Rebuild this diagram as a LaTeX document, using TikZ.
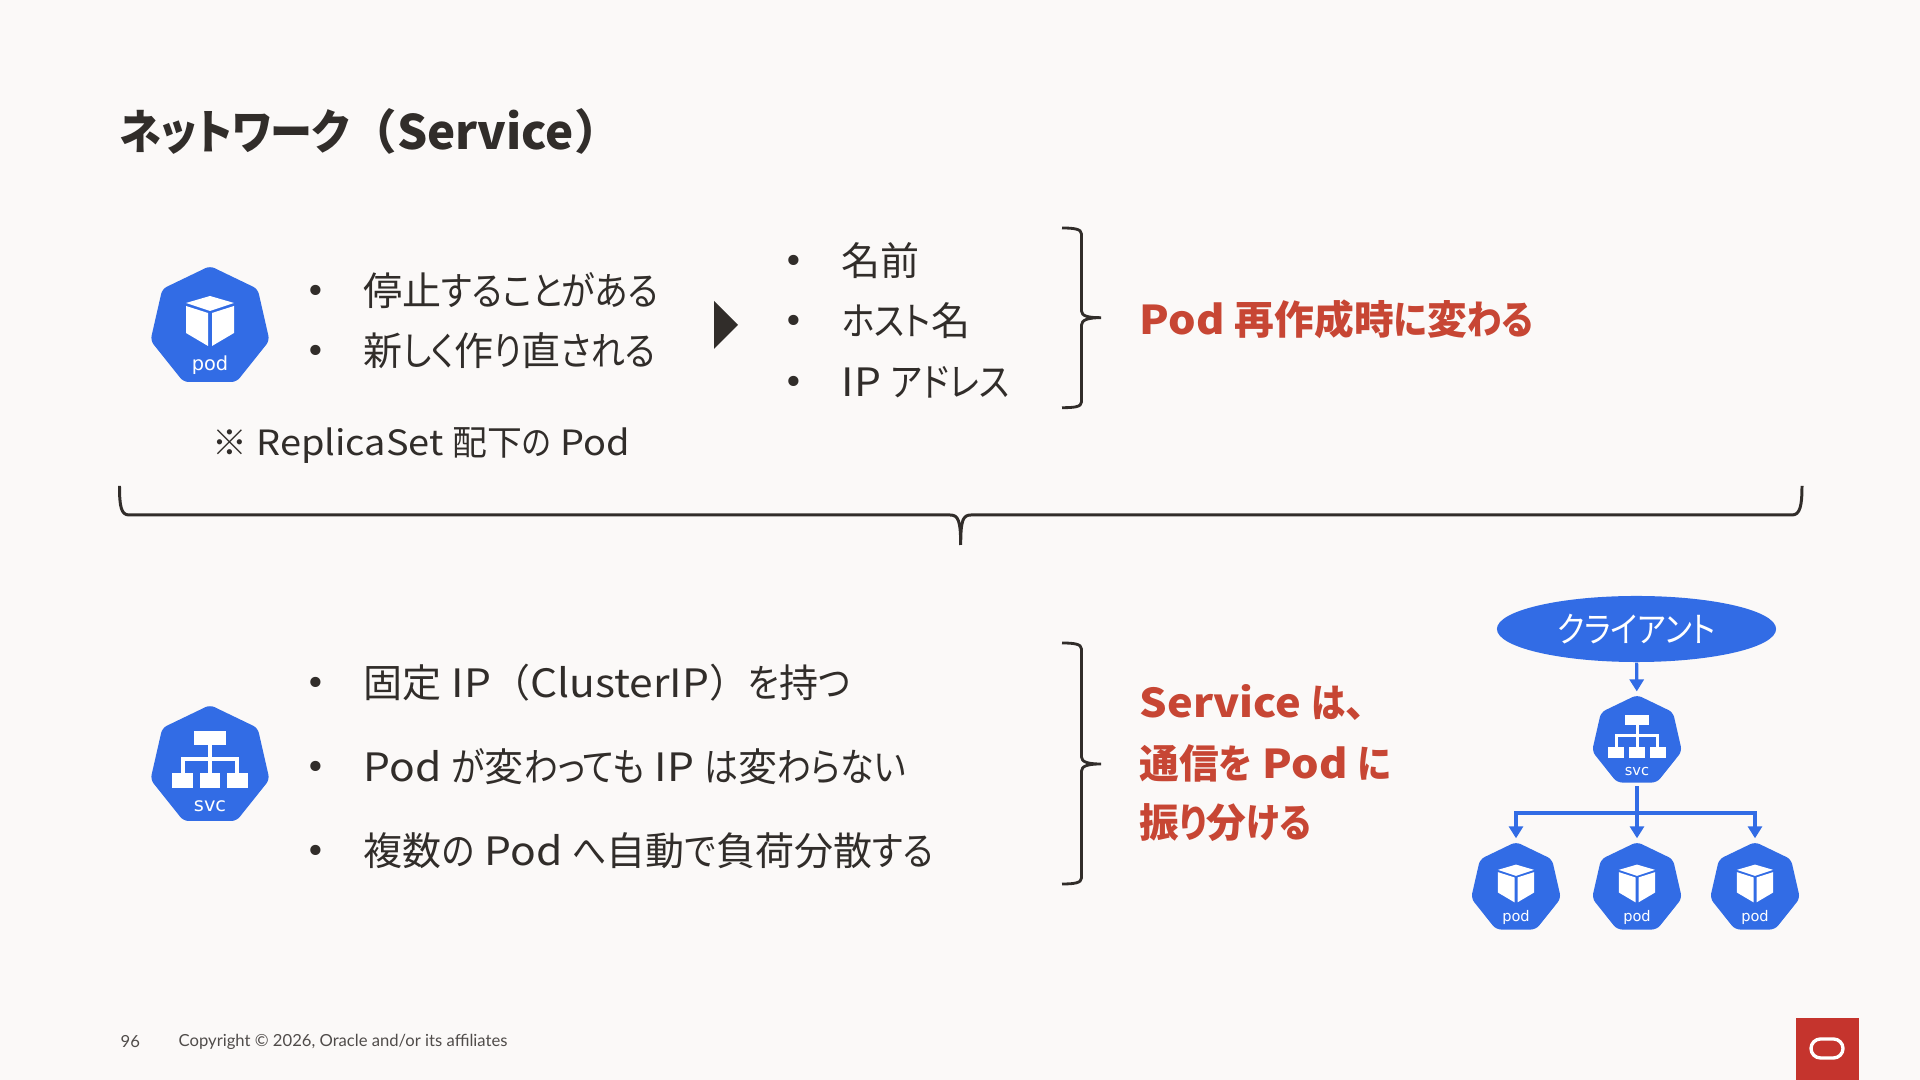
\documentclass[tikz,border=0pt]{standalone}
\usepackage{fontspec}
\usetikzlibrary{shapes.geometric,arrows.meta}
\setmainfont{Noto Sans CJK JP}
\newfontfamily\kanafont{Noto Sans CJK JP}[RawFeature=+palt,FakeStretch=0.868]
\newfontfamily\titlekana{Noto Sans CJK JP}[RawFeature=+palt,FakeStretch=0.885]
\newfontfamily\latinfont{Noto Sans CJK JP}[FakeStretch=1.09,WordSpace=1.05]
\newfontfamily\iconfont{DejaVu Sans}
\newfontfamily\footfont{Lato}
\newcommand{\kn}[1]{{\kanafont #1}}
\newcommand{\la}[1]{{\latinfont #1}}
\definecolor{pagebg}{HTML}{FBF9F8}
\definecolor{kubeblue}{HTML}{326CE5}
\definecolor{inkdark}{HTML}{312D2A}
\definecolor{alertred}{HTML}{C74634}
\definecolor{logored}{HTML}{C5342D}
\tikzset{
  bodytext/.style={anchor=west, inner sep=0pt, text=inkdark, font=\fontsize{11.1}{13}\selectfont},
  notetext/.style={anchor=west, inner sep=0pt, text=inkdark, font=\fontsize{9.9}{12}\selectfont},
  dottext/.style={inner sep=0pt, text=inkdark, font=\iconfont\fontsize{10}{12}\selectfont},
  alerttext/.style={anchor=west, inner sep=0pt, text=alertred, font=\bfseries\fontsize{11.3}{13}\selectfont},
  foottext/.style={anchor=west, inner sep=0pt, text=inkdark!85, font=\footfont\fontsize{4.73}{6}\selectfont},
  bracket/.style={draw=inkdark, line width=0.8pt},
  flow/.style={draw=kubeblue, line width=0.9pt, -{Triangle[length=0.12cm,width=0.14cm]}},
  trunk/.style={draw=kubeblue, line width=0.9pt},
  hexnode/.style={regular polygon, regular polygon sides=7, fill=kubeblue, inner sep=0pt,
    minimum size=1.22cm, rounded corners=0.05cm, transform shape},
  icontext/.style={inner sep=0pt, text=white, transform shape, font=\iconfont\fontsize{5.5}{6}\selectfont},
  pics/podicon/.style={code={
    \node[hexnode] (hex) at (0,0) {};
    \fill[white] (0,-31) -- (24,-24) -- (0,-16) -- (-24,-24) -- cycle;
    \fill[white] (-24,-21) -- (-2,-14) -- (-2,19) -- (-24,6) -- cycle;
    \fill[white] (24,-21) -- (2,-14) -- (2,19) -- (24,6) -- cycle;
    \node[icontext] (name) at (0,38.5) {pod};
  }},
  pics/svcicon/.style={code={
    \node[hexnode] (hex) at (0,0) {};
    \fill[white] (-16,-35) rectangle (16,-21);
    \fill[white] (-38,7.5) rectangle (-17,22);
    \fill[white] (-10,7.5) rectangle (10,22);
    \fill[white] (17,7.5) rectangle (38,22);
    \fill[white] (-2,-21) rectangle (2,7.5);
    \fill[white] (-29,-9) rectangle (29,-5);
    \fill[white] (-29,-9) rectangle (-25,7.5);
    \fill[white] (25,-9) rectangle (29,7.5);
    \node[icontext] (name) at (0,40) {svc};
  }}
}
\begin{document}
\begin{tikzpicture}[x=0.01cm, y=-0.01cm]
  \path[use as bounding box, fill=pagebg] (0,0) rectangle (1920,1080);

  % Title
  \node[anchor=west, inner sep=0pt, text=inkdark, font=\bfseries\fontsize{13.5}{16}\selectfont] (title) at (119,131) {{\titlekana ネットワーク}（Service）};

  % Pod row
  \pic (podbig) at (210,327) {podicon};
  \node[dottext] (dota) at (316,294) {•};
  \node[bodytext] (stop) at (363,291) {停止\kn{することがある}};
  \node[dottext] (dotb) at (316,354) {•};
  \node[bodytext] (recreate) at (363,351) {新\kn{しく}作\kn{り}直\kn{される}};
  \node[notetext] (note) at (212,446) {※\la{ ReplicaSet }配下\kn{の}\la{ Pod}};
  \fill[inkdark] (714,301) -- (738,325) -- (714,349) -- cycle;

  \node[dottext] (dotc) at (794,264) {•};
  \node[bodytext] (podname) at (841,261) {名前};
  \node[dottext] (dotd) at (794,324) {•};
  \node[bodytext] (hostname) at (841,321) {\kn{ホスト}名};
  \node[dottext] (dote) at (794,385) {•};
  \node[bodytext] (ipaddr) at (841,382) {\la{IP }\kn{アドレス}};

  \draw[bracket] (1062,228) .. controls (1074,228) and (1081.5,229) .. (1081.5,234) -- (1081.5,311)
    .. controls (1081.5,316) and (1088,317.7) .. (1101,317.7)
    .. controls (1088,317.7) and (1081.5,320) .. (1081.5,325) -- (1081.5,402)
    .. controls (1081.5,407) and (1074,407.7) .. (1062,407.7);
  \node[alerttext] (changes) at (1139,319) {\la{Pod }再作成時\kn{に}変\kn{わる}};

  % Wide brace
  \draw[bracket, line width=0.85pt] (119.5,486) .. controls (119.5,506) and (121,515) .. (129,515) -- (950,515)
    .. controls (958,515) and (960.7,520) .. (960.7,545)
    .. controls (960.7,520) and (963,515) .. (971,515) -- (1792,515)
    .. controls (1800,515) and (1802,506) .. (1802,486);

  % Service row
  \pic (svcbig) at (210,766) {svcicon};
  \node[dottext] (dotf) at (316,686) {•};
  \node[bodytext] (fixedip) at (363,683) {固定\la{ IP}（\la{ClusterIP}）\kn{を}持\kn{つ}};
  \node[dottext] (dotg) at (316,770) {•};
  \node[bodytext] (sameip) at (363,767) {\la{Pod }\kn{が}変\kn{わっても}\la{ IP }\kn{は}変\kn{わらない}};
  \node[dottext] (doth) at (316,854) {•};
  \node[bodytext] (balance) at (363,851) {複数\kn{の}\la{ Pod }\kn{へ}自動\kn{で}負荷分散\kn{する}};

  \draw[bracket] (1062,643) .. controls (1074,643) and (1081.5,644) .. (1081.5,649) -- (1081.5,757)
    .. controls (1081.5,762) and (1088,764) .. (1101,764)
    .. controls (1088,764) and (1081.5,766) .. (1081.5,771) -- (1081.5,878)
    .. controls (1081.5,883) and (1074,884) .. (1062,884);
  \node[alerttext] (svca) at (1139,703) {\la{Service }\kn{は}、};
  \node[alerttext] (svcb) at (1139,763) {通信\kn{を}\la{ Pod }\kn{に}};
  \node[alerttext] (svcc) at (1139,823) {振\kn{り}分\kn{ける}};

  % Client and routing
  \node[ellipse, fill=kubeblue, inner sep=0pt, minimum width=2.79cm, minimum height=0.66cm, text=white, font=\fontsize{10}{12}\selectfont] (client) at (1636.5,629) {\kn{クライアント}};
  \pic[scale=0.755] (svcsmall) at (1637,741) {svcicon};
  \pic[scale=0.755] (poda) at (1516,888) {podicon};
  \pic[scale=0.755] (podb) at (1637,888) {podicon};
  \pic[scale=0.755] (podc) at (1755,888) {podicon};
  \coordinate (bus) at (1637,813);

  \draw[flow, shorten >=0.03cm] (client) -- (svcsmallhex);
  \draw[trunk, shorten <=0.03cm] (svcsmallhex) -- (bus);
  \draw[flow, shorten >=0.03cm] (bus) -| (podahex.north);
  \draw[flow, shorten >=0.03cm] (bus) -- (podbhex.north);
  \draw[flow, shorten >=0.03cm] (bus) -| (podchex.north);

  % Footer
  \node[foottext] (pagenum) at (120,1042) {96};
  \node[foottext] (copyright) at (178,1042) {Copyright © 2026, Oracle and/or its affiliates};
  \fill[logored] (1796,1018) rectangle (1858.5,1080);
  \node[draw=white, line width=0.95pt, rounded corners=0.095cm, inner sep=0pt, minimum width=0.32cm, minimum height=0.19cm] (logo) at (1827,1048.5) {};
\end{tikzpicture}
\end{document}
